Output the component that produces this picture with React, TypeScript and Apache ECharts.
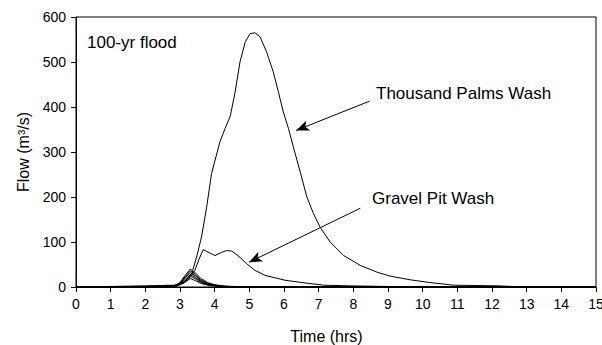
import React, { useEffect, useRef } from "react";
import * as echarts from "echarts";

// ---- Data (time in hours, flow in m3/s) ----
const xTicks = [0, 15, 1];
const yTicks = [0, 600, 100];

const thousandPalmsTime = [0, 1.2, 2.0, 2.5, 2.85, 3.14, 3.34, 3.48, 3.62, 3.77, 3.91, 4.15, 4.3, 4.45, 4.59, 4.73, 4.88, 5.02, 5.16, 5.31, 5.5, 5.69, 5.84, 5.98, 6.13, 6.27, 6.47, 6.66, 6.85, 7.04, 7.33, 7.72, 8.2, 8.68, 9.07, 9.64, 10.2, 10.9, 12.2, 12.7, 13, 15];
const thousandPalmsFlow = [0, 1.5, 2.5, 3.5, 4, 11, 30, 67, 111, 178, 252, 322, 352, 380, 433, 500, 544, 563, 565, 556, 522, 478, 433, 389, 352, 311, 255, 200, 163, 133, 100, 70, 48, 33, 24, 16, 10, 4, 2.5, 0.8, 0, 0];

const gravelPitTime = [0, 2.0, 2.8, 3.1, 3.25, 3.43, 3.55, 3.67, 3.85, 4.01, 4.2, 4.35, 4.49, 4.7, 4.92, 5.16, 5.45, 6.03, 6.61, 7.14, 7.9, 9.6, 10, 15];
const gravelPitFlow = [0, 1.5, 3, 8, 18, 37, 62, 83, 76, 70, 77, 81, 80, 68, 52, 37, 26, 15, 9, 4, 2.5, 0.5, 0, 0];

const smallTime = [0, 2.6, 2.85, 3.0, 3.15, 3.3, 3.45, 3.6, 3.8, 4.0, 4.3, 4.8, 5.5, 15];
const smallFlowA = [0, 0.5, 3, 10, 26, 40, 31, 19, 10, 5, 2, 0.5, 0, 0];
const smallFlowB = [0, 0.5, 2.5, 9, 23, 36, 27, 16, 8, 4, 1.5, 0.4, 0, 0];
const smallFlowC = [0, 0.4, 2, 8, 20, 32, 24, 14, 7, 3.5, 1.2, 0.3, 0, 0];
const smallFlowD = [0, 0.3, 2, 7, 17, 28, 21, 12, 6, 3, 1, 0.3, 0, 0];
const smallFlowE = [0, 0.3, 1.5, 6, 14, 24, 18, 10, 5, 2.5, 0.8, 0.2, 0, 0];
const smallFlowF = [0, 0.2, 1, 5, 11, 19, 14, 8, 4, 2, 0.6, 0.2, 0, 0];
const smallFlows = [smallFlowA, smallFlowB, smallFlowC, smallFlowD, smallFlowE, smallFlowF];

// annotation arrows: [fromX, fromY, toX, toY] in data units
const tpArrow = [8.47, 413, 6.35, 348];
const gpArrow = [8.2, 175, 4.99, 55];

const FONT = "'Liberation Sans', Arial, sans-serif";

const pairs = (t: number[], v: number[]) => t.map((x, i) => [x, v[i]]);

export default function App() {
  const ref = useRef<HTMLDivElement>(null);
  useEffect(() => {
    if (!ref.current) return;
    const chart = echarts.init(ref.current, undefined, { renderer: "svg" });
    const lineBase = {
      type: "line",
      showSymbol: false,
      symbol: "none",
      lineStyle: { color: "#000", width: 1 },
      itemStyle: { color: "#000" },
      silent: true,
      z: 2,
    };
    const arrowData = (a: number[]) => [
      { coord: [a[0], a[1]] },
      { coord: [a[2], a[3]] },
    ];
    chart.setOption({
      animation: false,
      grid: {
        left: 76,
        right: 6,
        top: 17,
        bottom: 58,
        show: true,
        borderColor: "#000",
        borderWidth: 1,
        backgroundColor: "transparent",
        containLabel: false,
        outerBoundsMode: "none",
      },
      xAxis: {
        type: "value",
        min: xTicks[0],
        max: xTicks[1],
        interval: xTicks[2],
        name: "Time (hrs)",
        nameLocation: "middle",
        nameGap: 41,
        nameTextStyle: { fontFamily: FONT, fontSize: 16, color: "#000", padding: [0, 19, 0, 0] },
        axisLine: { show: true, lineStyle: { color: "#000", width: 1 } },
        axisTick: { show: true, length: 5, lineStyle: { color: "#000" } },
        axisLabel: { fontFamily: FONT, fontSize: 14, color: "#000", margin: 10 },
        splitLine: { show: false },
      },
      yAxis: {
        type: "value",
        min: yTicks[0],
        max: yTicks[1],
        interval: yTicks[2],
        name: "Flow (m³/s)",
        nameLocation: "middle",
        nameGap: 43,
        nameTextStyle: { fontFamily: FONT, fontSize: 16, color: "#000" },
        axisLine: { show: true, lineStyle: { color: "#000", width: 1 } },
        axisTick: { show: true, length: 5, lineStyle: { color: "#000" } },
        axisLabel: { fontFamily: FONT, fontSize: 14, color: "#000", margin: 10 },
        splitLine: { show: false },
      },
      graphic: [
        {
          type: "text",
          left: 87,
          top: 34,
          style: { text: "100-yr flood", font: `17px ${FONT}`, fill: "#000" },
        },
        {
          type: "text",
          left: 376,
          top: 85,
          style: { text: "Thousand Palms Wash", font: `17px ${FONT}`, fill: "#000" },
        },
        {
          type: "text",
          left: 372,
          top: 190,
          style: { text: "Gravel Pit Wash", font: `17px ${FONT}`, fill: "#000" },
        },
      ],
      series: [
        ...smallFlows.map((f, i) => ({
          ...lineBase,
          name: "Small wash " + (i + 1),
          data: pairs(smallTime, f),
        })),
        {
          ...lineBase,
          name: "Gravel Pit Wash",
          data: pairs(gravelPitTime, gravelPitFlow),
          markLine: {
            silent: true,
            symbol: ["none", "arrow"],
            symbolSize: [8, 13],
            label: { show: false },
            lineStyle: { color: "#000", width: 1, type: "solid" },
            data: [arrowData(gpArrow)],
          },
        },
        {
          ...lineBase,
          name: "Thousand Palms Wash",
          data: pairs(thousandPalmsTime, thousandPalmsFlow),
          markLine: {
            silent: true,
            symbol: ["none", "arrow"],
            symbolSize: [8, 13],
            label: { show: false },
            lineStyle: { color: "#000", width: 1, type: "solid" },
            data: [arrowData(tpArrow)],
          },
        },
      ],
    });
    return () => chart.dispose();
  }, []);
  return (
    <div
      ref={ref}
      style={{ position: "absolute", left: 0, top: 0, width: 602, height: 345 }}
    />
  );
}
